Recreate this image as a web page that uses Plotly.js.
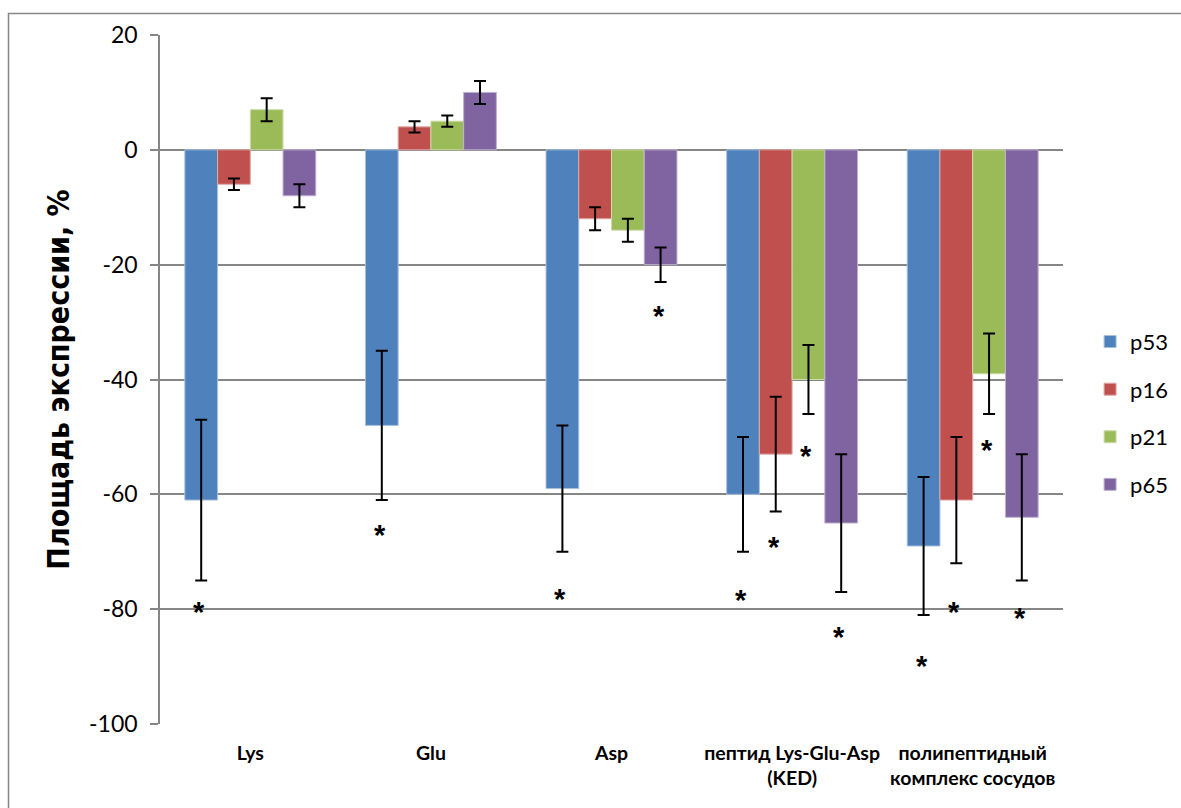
<!DOCTYPE html>
<html>
<head>
<meta charset="utf-8">
<script src="https://cdn.plot.ly/plotly-3.0.1.min.js"></script>
<style>
  html, body { margin: 0; padding: 0; background: #fff; }
  #chart { width: 1181px; height: 808px; }
</style>
</head>
<body>
<div id="chart"></div>
<script>
// ---- Data ----
const categories = ['Lys', 'Glu', 'Asp', 'пептид Lys-Glu-Asp<br>(KED)', 'полипептидный<br>комплекс сосудов'];
const seriesNames = ['p53', 'p16', 'p21', 'p65'];

const p53 = [-61, -48, -59, -60, -69];
const p16 = [-6, 4, -12, -53, -61];
const p21 = [7, 5, -14, -40, -39];
const p65 = [-8, 10, -20, -65, -64];

const p53Err = [14, 13, 11, 10, 12];
const p16Err = [1, 1, 2, 10, 11];
const p21Err = [2, 1, 2, 6, 7];
const p65Err = [2, 2, 3, 12, 11];

// y position of the significance asterisk (null = none)
const p53Sig = [-79.9, -66.6, -77.7, -77.8, -89.3];
const p16Sig = [null, null, null, -68.7, -79.9];
const p21Sig = [null, null, null, -52.8, -51.7];
const p65Sig = [null, null, -28.4, -84.3, -81.0];

const yTickVals = [-100, -80, -60, -40, -20, 0, 20];
const yTickText = ['-100', '-80', '-60', '-40', '-20', '0', '20'];

// ---- Styling ----
const colors = ['#4F81BD', '#C0504D', '#9BBB59', '#8064A2'];
const lineColors = ['#A7C0DE', '#E0A8A6', '#CDDDAC', '#BFB1D0'];
const values = [p53, p16, p21, p65];
const errs = [p53Err, p16Err, p21Err, p65Err];
const sigs = [p53Sig, p16Sig, p21Sig, p65Sig];

const W = 1181, H = 808;
const M = {l: 160, r: 118, t: 35, b: 84, autoexpand: false};
const plotW = W - M.l - M.r;
const plotH = H - M.t - M.b;
const bargap = 0.275;
const grid = '#868686';

const traces = seriesNames.map((name, i) => ({
  type: 'bar',
  name: name,
  x: categories,
  y: values[i],
  legendgroup: name,
  marker: {color: colors[i], line: {color: lineColors[i], width: 1}},
  error_y: {type: 'data', array: errs[i], visible: true, color: '#000', thickness: 2, width: 6},
  hoverinfo: 'x+y+name'
}));

// asterisk annotations
const barPx = plotW / categories.length * (1 - bargap) / seriesNames.length;
const annotations = [];
sigs.forEach((arr, i) => {
  arr.forEach((v, j) => {
    if (v === null) return;
    annotations.push({
      x: categories[j], y: v, xref: 'x', yref: 'y',
      text: '*', showarrow: false,
      xshift: (i - 1.5) * barPx - 2,
      yshift: -3,
      yanchor: 'middle',
      font: {family: 'Liberation Sans', size: 29, color: '#000', weight: 'bold'}
    });
  });
});

const layout = {
  width: W, height: H,
  margin: M,
  paper_bgcolor: '#fff',
  plot_bgcolor: '#fff',
  barmode: 'group',
  bargap: bargap,
  bargroupgap: 0,
  showlegend: true,
  legend: {
    x: 1.030, xanchor: 'left', y: 0.451, yanchor: 'middle',
    font: {family: 'Lato', size: 22, color: '#000'},
    tracegroupgap: 16,
    bgcolor: 'rgba(0,0,0,0)'
  },
  xaxis: {
    type: 'category',
    showline: false, showgrid: false, zeroline: false,
    ticks: '',
    ticklabelstandoff: 15,
    tickfont: {family: 'Lato', size: 19.5, color: '#000', weight: 'bold'},
    fixedrange: true
  },
  xaxis2: {
    overlaying: 'x', anchor: 'free', position: 100 / 120, side: 'bottom',
    type: 'linear', range: [-0.5, categories.length - 0.5],
    tickvals: categories.map((c, k) => k - 0.5).concat([categories.length - 0.5]),
    ticks: 'outside', ticklen: 7, tickwidth: 1.5, tickcolor: grid,
    showticklabels: false, showgrid: false, zeroline: false, showline: false,
    fixedrange: true
  },
  yaxis: {
    range: [-100, 20],
    tickvals: yTickVals, ticktext: yTickText,
    showgrid: true, gridcolor: grid, gridwidth: 1.5,
    zeroline: true, zerolinecolor: grid, zerolinewidth: 2,
    showline: true, linecolor: grid, linewidth: 1.5,
    ticks: 'outside', ticklen: 8, tickwidth: 1.5, tickcolor: grid,
    ticklabelstandoff: 8,
    tickfont: {family: 'Lato', size: 23, color: '#000'},
    title: {
      text: 'Площадь экспрессии, %',
      font: {family: 'DejaVu Sans Condensed, Liberation Sans, sans-serif', size: 30, color: '#000', weight: 'bold'},
      standoff: 11
    },
    fixedrange: true
  },
  annotations: annotations,
  shapes: [{
    type: 'rect', xref: 'paper', yref: 'paper',
    x0: (8.5 - M.l) / plotW, x1: (W + 10 - M.l) / plotW,
    y0: -(H + 10 - (H - M.b)) / plotH, y1: 1 + (M.t - 13.5) / plotH,
    line: {color: grid, width: 1.5}, fillcolor: 'rgba(0,0,0,0)', layer: 'below'
  }]
};

Plotly.newPlot('chart', traces, layout, {displayModeBar: false});
</script>
</body>
</html>
